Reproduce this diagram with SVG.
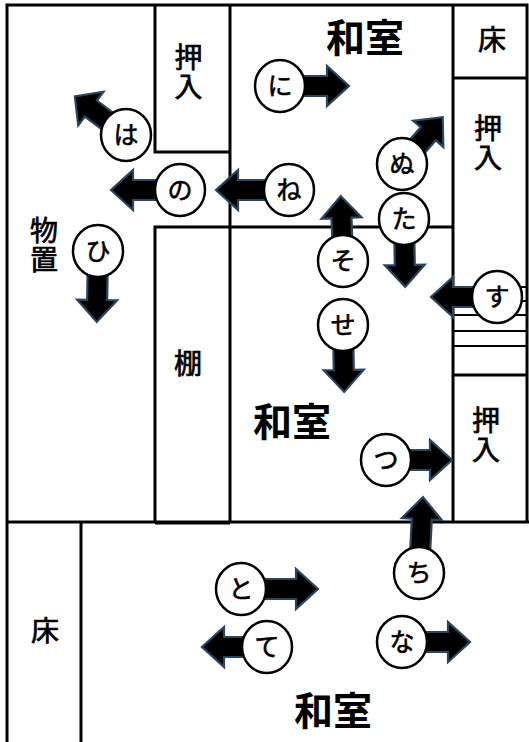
<svg xmlns="http://www.w3.org/2000/svg" width="529" height="742" viewBox="0 0 529 742">
<style>
.w{stroke:#000;stroke-width:3;fill:none}
.t{stroke:#000;stroke-width:2;fill:none}
.a{fill:#000;stroke:#2a4560;stroke-width:2.2;stroke-linejoin:miter}
.c{fill:#fff;stroke:#000;stroke-width:2.5}
text{font-family:"Noto Sans CJK JP","Noto Sans CJK SC",sans-serif;fill:#000;text-anchor:middle}
.k{font-size:28px;font-weight:400;stroke:#000;stroke-width:.7}
.r{font-size:25px;font-weight:400;stroke:#000;stroke-width:.6}
.l{font-size:39px;font-weight:700}
</style>
<rect width="529" height="742" fill="#fff"/>
<g id="walls">
<path class="w" d="M7 742V5H527V522M7 522H529M81 522V742M155 5V152H230M230 5V522M155 522V227H453M155 523H230M453 5V522M453 78H527M453 375H527"/>
<path class="t" d="M453 315H527M453 331H527M453 346H527M515 287H527M515 301H527"/>
</g>
<g id="connectors">
<polygon class="a" transform="translate(126 135) rotate(217)" points="0,-10 44,-10 44,-21 64,0 44,21 44,10 0,10"/>
<polygon class="a" transform="translate(180 190) rotate(180)" points="0,-10 47,-10 47,-20 69,0 47,20 47,10 0,10"/>
<polygon class="a" transform="translate(289 190) rotate(180)" points="0,-10 51,-10 51,-20 73,0 51,20 51,10 0,10"/>
<polygon class="a" transform="translate(280 86)" points="0,-10 47,-10 47,-20 69,0 47,20 47,10 0,10"/>
<polygon class="a" transform="translate(402 164) rotate(-49)" points="0,-10 40,-10 40,-20 62,0 40,20 40,10 0,10"/>
<polygon class="a" transform="translate(404 219) rotate(89)" points="0,-10 46,-10 46,-20 68,0 46,20 46,10 0,10"/>
<polygon class="a" transform="translate(343 261) rotate(-92)" points="0,-10 43,-10 43,-20 65,0 43,20 43,10 0,10"/>
<polygon class="a" transform="translate(497 297) rotate(180)" points="0,-10 44,-10 44,-20 66,0 44,20 44,10 0,10"/>
<polygon class="a" transform="translate(343 325) rotate(89)" points="0,-10 45,-10 45,-20 67,0 45,20 45,10 0,10"/>
<polygon class="a" transform="translate(386 460)" points="0,-10 44,-10 44,-20 66,0 44,20 44,10 0,10"/>
<polygon class="a" transform="translate(419 573) rotate(-87)" points="0,-10 54,-10 54,-20 76,0 54,20 54,10 0,10"/>
<polygon class="a" transform="translate(241 589)" points="0,-10 55,-10 55,-20 77,0 55,20 55,10 0,10"/>
<polygon class="a" transform="translate(267 647) rotate(180)" points="0,-10 43,-10 43,-20 65,0 43,20 43,10 0,10"/>
<polygon class="a" transform="translate(402 642)" points="0,-10 46,-10 46,-20 68,0 46,20 46,10 0,10"/>
<polygon class="a" transform="translate(98 251) rotate(91)" points="0,-10 49,-10 49,-20 71,0 49,20 49,10 0,10"/>
</g>
<g id="labels">
<text class="l" x="365" y="52">和室</text>
<text class="l" x="292" y="436">和室</text>
<text class="l" x="333" y="725">和室</text>
<text class="k" x="492" y="50">床</text>
<text class="k" x="45" y="641">床</text>
<text class="k" x="188.500" y="67.500">押<tspan x="188.500" dy="29">入</tspan></text>
<text class="k" x="488" y="139">押<tspan x="488" dy="29">入</tspan></text>
<text class="k" x="486" y="431">押<tspan x="486" dy="29">入</tspan></text>
<text class="k" x="44" y="241">物<tspan x="44" dy="29">置</tspan></text>
<text class="k" x="188" y="374">棚</text>
</g>
<g id="n-ha"><ellipse class="c" cx="126" cy="135" rx="25" ry="26"/><text class="r" x="126" y="144">は</text></g>
<g id="n-no"><ellipse class="c" cx="180" cy="190" rx="25" ry="26"/><text class="r" x="180" y="199">の</text></g>
<g id="n-ne"><ellipse class="c" cx="289" cy="190" rx="25" ry="26"/><text class="r" x="289" y="199">ね</text></g>
<g id="n-ni"><ellipse class="c" cx="280" cy="86" rx="25" ry="26"/><text class="r" x="280" y="95">に</text></g>
<g id="n-nu"><ellipse class="c" cx="402" cy="164" rx="25" ry="26"/><text class="r" x="402" y="173">ぬ</text></g>
<g id="n-ta"><ellipse class="c" cx="404" cy="219" rx="25" ry="26"/><text class="r" x="404" y="228">た</text></g>
<g id="n-so"><ellipse class="c" cx="343" cy="261" rx="25" ry="26"/><text class="r" x="343" y="270">そ</text></g>
<g id="n-su"><ellipse class="c" cx="497" cy="297" rx="25" ry="26"/><text class="r" x="497" y="306">す</text></g>
<g id="n-se"><ellipse class="c" cx="343" cy="325" rx="25" ry="26"/><text class="r" x="343" y="334">せ</text></g>
<g id="n-tsu"><ellipse class="c" cx="386" cy="460" rx="25" ry="26"/><text class="r" x="386" y="469">つ</text></g>
<g id="n-chi"><ellipse class="c" cx="419" cy="573" rx="25" ry="26"/><text class="r" x="419" y="582">ち</text></g>
<g id="n-to"><ellipse class="c" cx="241" cy="589" rx="25" ry="26"/><text class="r" x="241" y="598">と</text></g>
<g id="n-te"><ellipse class="c" cx="267" cy="647" rx="25" ry="26"/><text class="r" x="267" y="656">て</text></g>
<g id="n-na"><ellipse class="c" cx="402" cy="642" rx="25" ry="26"/><text class="r" x="402" y="651">な</text></g>
<g id="n-hi"><ellipse class="c" cx="98" cy="251" rx="25" ry="26"/><text class="r" x="98" y="260">ひ</text></g>
</svg>
